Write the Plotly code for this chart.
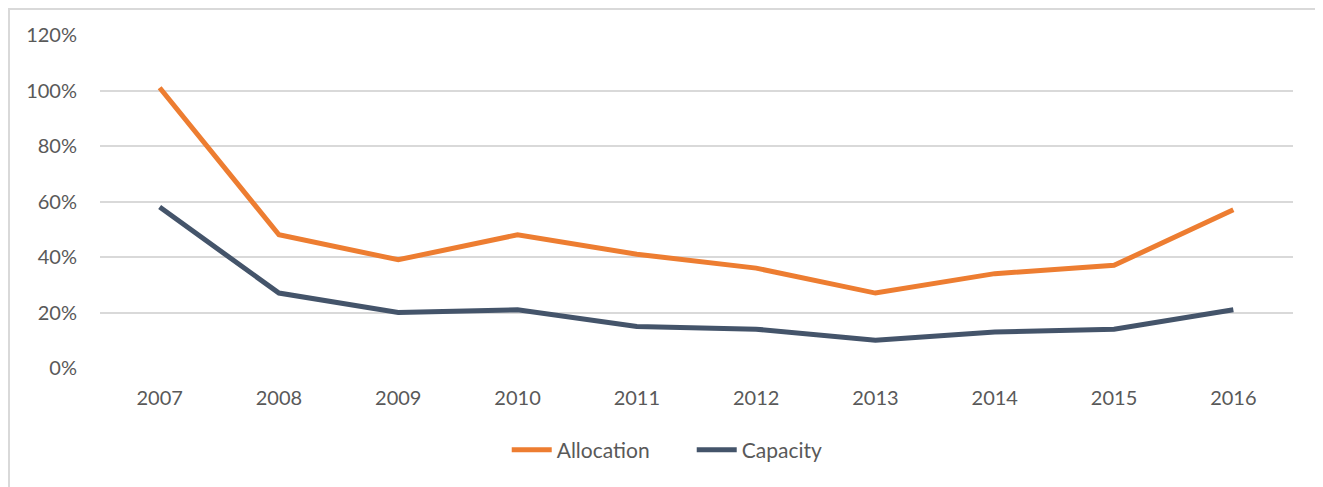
import plotly.graph_objects as go

years = ["2007", "2008", "2009", "2010", "2011", "2012", "2013", "2014", "2015", "2016"]
allocation = [1.01, 0.48, 0.39, 0.48, 0.41, 0.36, 0.27, 0.34, 0.37, 0.57]
capacity = [0.58, 0.27, 0.20, 0.21, 0.15, 0.14, 0.10, 0.13, 0.14, 0.21]
y_ticks = [0, 0.2, 0.4, 0.6, 0.8, 1.0, 1.2]
y_tick_labels = ["0%", "20%", "40%", "60%", "80%", "100%", "120%"]

font_family = "Lato, Carlito, Calibri, 'Open Sans', sans-serif"

fig = go.Figure()
fig.add_trace(go.Scatter(x=years, y=allocation, name="Allocation", mode="lines",
                         line=dict(color="#ED7D31", width=5)))
fig.add_trace(go.Scatter(x=years, y=capacity, name="Capacity", mode="lines",
                         line=dict(color="#44546A", width=5)))

fig.update_layout(
    width=1315, height=479,
    margin=dict(l=92, r=30, t=27, b=119),
    paper_bgcolor="white", plot_bgcolor="white",
    font=dict(family=font_family, size=20, color="#595959"),
    showlegend=True,
    legend=dict(orientation="h", x=0.496, xanchor="center", y=-0.185, yanchor="top",
                font=dict(size=21, color="#595959"), itemwidth=40,
                entrywidth=130, entrywidthmode="pixels"),
    shapes=[dict(type="rect", xref="paper", yref="paper",
                 x0=-0.0763, x1=1.0226, y0=-0.6, y1=1.078,
                 line=dict(color="#D9D9D9", width=2), fillcolor="rgba(0,0,0,0)",
                 layer="below")],
)
fig.update_xaxes(type="category", range=[-0.5, 9.5], showgrid=False, showline=False,
                 zeroline=False, ticks="", tickfont=dict(size=20, color="#595959"),
                 ticklabelstandoff=16)
fig.update_yaxes(range=[0, 1.2], tickvals=y_ticks, ticktext=y_tick_labels,
                 showgrid=True, gridcolor="#D9D9D9", gridwidth=2, zeroline=False,
                 showline=False, ticks="", tickfont=dict(size=20, color="#595959"),
                 ticklabelstandoff=22)

fig.write_html("out.html")
